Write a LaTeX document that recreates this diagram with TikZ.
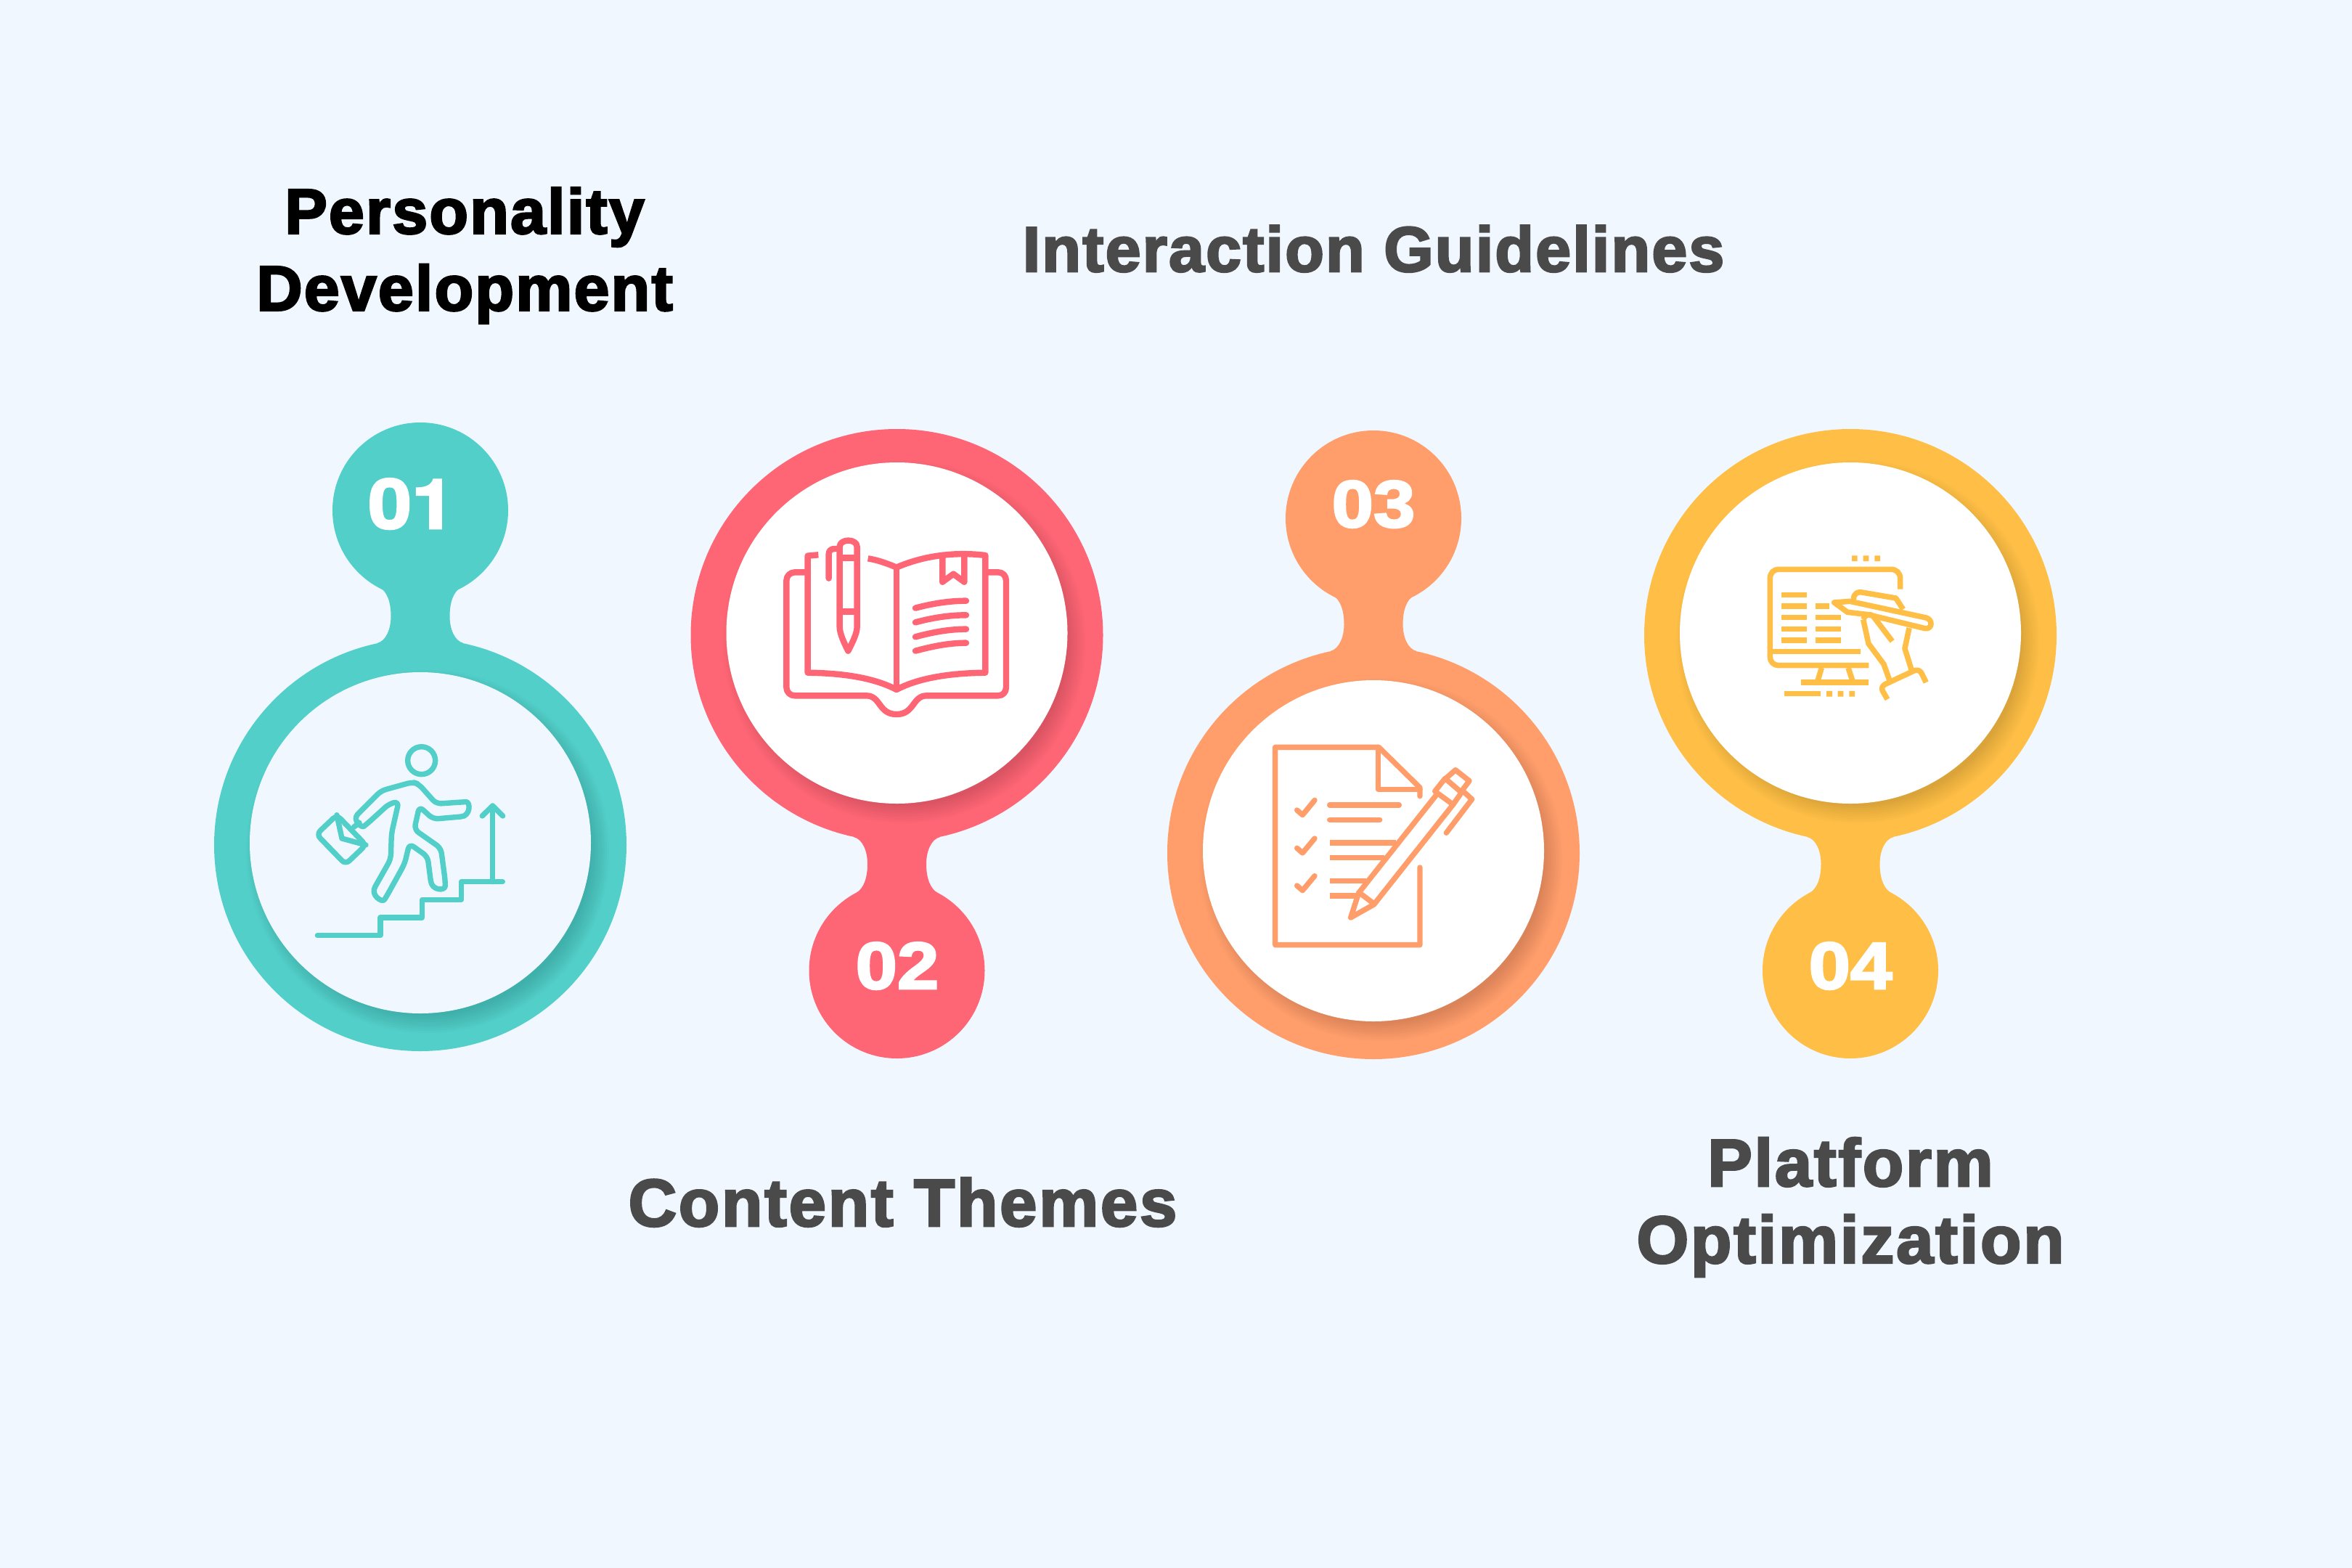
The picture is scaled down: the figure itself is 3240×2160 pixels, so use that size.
\documentclass[tikz,border=0pt]{standalone}
\usepackage{fontspec}
\newfontfamily\hda[FakeBold=3,LetterSpace=2.5]{Liberation Sans Bold}
\newfontfamily\hdb[FakeBold=3,LetterSpace=3]{Liberation Sans Bold}
\newfontfamily\hdn[FakeBold=3,FakeStretch=1.13]{Liberation Sans Bold}
\newfontfamily\hdo[BoldFeatures={FakeBold=3,FakeStretch=1.13}]{TeX Gyre Heros}
\definecolor{bgc}{HTML}{F0F7FF}
\definecolor{teal1}{HTML}{52CFC9}
\definecolor{red1}{HTML}{FF6675}
\definecolor{org1}{HTML}{FF9E6B}
\definecolor{yel1}{HTML}{FFBF47}
\definecolor{txt1}{HTML}{4A4A4A}
\tikzset{
 title/.style={font=\hda\fontsize{50}{60.3}\selectfont,align=center,text=txt1,inner sep=0pt},
 titleb/.style={font=\hdb\fontsize{52.5}{60.3}\selectfont,align=center,text=txt1,inner sep=0pt},
 num/.style={font=\hdn\fontsize{52}{60}\selectfont,text=white,inner sep=0pt,anchor=base},
 icon/.style={line width=4.2pt,line join=round,line cap=round,draw=#1},
}
% #1 color, #2 cx, #3 big cy, #4 inner cy, #5 small cy, #6 dir, #7 inner fill
\newcommand{\blobshape}[7]{%
 \fill[#1] (#2,#3) circle[radius=284];
 \fill[#1] (#2,#5) circle[radius=121];
 \begin{scope}[shift={(#2,#3)},yscale=#6]
 \fill[#1] (-56,-355) .. controls (-46,-349) and (-40.5,-335) .. (-40.5,-315)
   .. controls (-40.5,-298) and (-47,-281) .. (-59.5,-278) -- (59.5,-278)
   .. controls (47,-281) and (40.5,-298) .. (40.5,-315)
   .. controls (40.5,-335) and (46,-349) .. (56,-355) -- cycle;
 \end{scope}
 \foreach \r in {226,229,...,250}{
   \fill[black,opacity=.016] ([shift={(10,12)}]#2,#4) circle[radius=\r];}
 \fill[#7] (#2,#4) circle[radius=235];
}
\begin{document}
\begin{tikzpicture}[x=.02cm,y=-.02cm]
\fill[bgc] (0,0) rectangle (3240,2160);
\useasboundingbox (0,0) rectangle (3240,2160);
\blobshape{teal1}{579}{1164}{1161}{703}{1}{bgc}
\blobshape{red1}{1235.5}{875}{872}{1337}{-1}{white}
\blobshape{org1}{1892}{1175}{1172}{714}{1}{white}
\blobshape{yel1}{2549}{875}{872}{1337}{-1}{white}

\node[num,font=\hdo\bfseries\fontsize{54}{60}\selectfont] (n1) at (567,728) {01};
\node[num] (n2) at (1236,1362) {02};
\node[num] (n3) at (1892,726) {03};
\node[num] (n4) at (2549,1362) {04};

\node[title,text=black] (t1) at (640,352) {Personality\\Development};
\node[title,anchor=base] (t3) at (1892,374) {Interaction Guidelines};
\node[titleb,anchor=base] (t2) at (1243.5,1689) {Content Themes};
\node[titleb] (t4) at (2549,1663) {Platform\\Optimization};

% icon 1
\begin{scope}[shift={(400,1000)},x=.02cm/3,y=-.02cm/3,icon=teal1]
\draw (542,143) circle[radius=57];
\draw[rounded corners=4pt] (278,365) -- (375,268) -- (505,232) -- (530,240) -- (603,322) -- (705,315)
  [sharp corners] .. controls (745,313) and (745,373) .. (705,375) [rounded corners=4pt]
  -- (590,385) -- (533,333) -- (512,428) -- (622,505) -- (640,640)
  [sharp corners] .. controls (640,682) and (585,682) .. (580,640) [rounded corners=4pt]
  -- (567,540) -- (492,487) -- (472,570) -- (400,700)
  [sharp corners] .. controls (380,732) and (330,700) .. (350,665) [rounded corners=4pt]
  -- (415,550) -- (418,445) -- (448,312) -- (408,322) -- (320,402)
  [sharp corners] .. controls (295,422) and (255,390) .. (278,365) -- cycle;
\draw (285,400) -- (262,418);
\draw[rounded corners=4pt] (192,368) -- (312,492) -- (228,572) -- (108,448) -- cycle;
\draw (192,368) -- (213,465) -- (312,492);
\draw (112,866) -- (372,866) -- (372,792) -- (545,792) -- (545,718) -- (707,718) -- (707,644) -- (877,644);
\draw (836,644) -- (836,330);
\draw (793,372) -- (836,330) -- (878,372);
\end{scope}

% icon 2
\begin{scope}[shift={(1050,720)},x=.02cm/3,y=-.02cm/3,icon=red1,line width=4.8pt]
\draw (175,205) -- (135,205) .. controls (115,205) and (100,220) .. (100,240) -- (100,680)
  .. controls (100,700) and (115,715) .. (135,715) -- (430,715)
  .. controls (490,715) and (480,792) .. (555,792) .. controls (630,792) and (620,715) .. (680,715)
  -- (975,715) .. controls (995,715) and (1008,700) .. (1008,680) -- (1008,240)
  .. controls (1008,220) and (995,205) .. (975,205) -- (925,205);
\draw[line cap=butt] (232,133) -- (188,137) -- (188,620) .. controls (330,622) and (460,640) .. (555,690)
  .. controls (650,640) and (780,622) .. (922,620) -- (922,135) .. controls (800,120) and (670,135) .. (555,185)
  .. controls (520,170) and (480,155) .. (437,148);
\draw[line cap=butt] (555,185) -- (555,690);
\draw (745,135) -- (745,245) -- (790,212) -- (835,245) -- (835,135);
\draw (633,353) .. controls (700,335) and (770,323) .. (843,323);
\draw (633,412) .. controls (700,394) and (770,382) .. (843,382);
\draw (633,472) .. controls (700,454) and (770,440) .. (843,440);
\draw (633,530) .. controls (700,512) and (770,497) .. (843,497);
\draw (320,430) -- (320,100) .. controls (320,65) and (392,65) .. (392,100) -- (392,430)
  .. controls (392,460) and (370,500) .. (355,530) .. controls (340,500) and (320,460) .. (320,430) -- cycle;
\draw[line cap=butt] (320,145) -- (392,145) (320,367) -- (392,367);
\draw (275,230) -- (275,130) .. controls (275,115) and (285,108) .. (300,108) -- (320,108);
\end{scope}

% icon 3
\begin{scope}[shift={(1730,1010)},x=.02cm/3,y=-.02cm/3,icon=org1]
\draw (678,555) -- (678,875) -- (80,875) -- (80,58) -- (508,58) -- (678,225) -- (678,260);
\draw (505,58) -- (505,232) -- (678,232);
\draw (170,318) -- (193,338) -- (243,277);
\draw (170,475) -- (193,495) -- (243,435);
\draw (170,630) -- (193,650) -- (243,590);
\draw (305,297) -- (592,297);
\draw (305,358) -- (512,358);
\draw[line cap=butt] (305,453) -- (578,453);
\draw[line cap=butt] (305,515) -- (532,515);
\draw[line cap=butt] (305,610) -- (455,610);
\draw[line cap=butt] (305,672) -- (415,672);
\draw (750,250) -- (425,660) -- (392,762) -- (488,708) -- (815,295);
\draw (435,665) -- (482,700);
\draw (740,240) -- (782,187) -- (850,245) -- (815,295) -- cycle;
\draw (785,187) -- (825,152) -- (882,197) -- (850,240);
\draw (860,243) -- (893,273) -- (787,412);
\end{scope}

% icon 4
\begin{scope}[shift={(2420,750)},x=.02cm/3,y=-.02cm/3,icon=yel1,line cap=butt,line width=4.3pt]
\fill[yel1] (393,46) rectangle (416,69) (440,46) rectangle (463,69) (487,46) rectangle (510,69);
\fill[yel1] (288,606) rectangle (312,629) (335,606) rectangle (358,629) (382,606) rectangle (405,629);
\draw (593,185) -- (593,140) .. controls (593,118) and (577,103) .. (555,103) -- (90,103)
  .. controls (70,103) and (55,118) .. (55,140) -- (55,465) .. controls (55,485) and (70,500) .. (90,500) -- (463,500);
\draw (55,442) -- (428,442);
\draw (268,510) -- (250,570) (378,510) -- (398,570);
\draw (183,570) -- (463,570);
\draw (113,617) -- (265,617);
\foreach \yy in {208,255,302,349,396}{\draw (102,\yy) -- (207,\yy);}
\draw (242,255) -- (300,255);
\foreach \yy in {302,349,396}{\draw (242,\yy) -- (347,\yy);}
\draw (400,228) .. controls (400,200) and (420,195) .. (435,198) -- (575,222) -- (605,268);
\draw (320,240) -- (385,235) -- (700,303) .. controls (730,312) and (725,352) .. (695,347) -- (460,290) -- (375,280) -- cycle;
\draw (440,310) .. controls (445,290) and (470,285) .. (480,295) -- (560,400);
\draw (440,310) -- (462,410) -- (525,495) -- (550,565);
\draw (630,345) -- (612,430) -- (640,520);
\draw (700,570) -- (680,530) .. controls (672,518) and (660,518) .. (650,522) -- (530,578) .. controls (518,585) and (515,595) .. (520,605) -- (540,640);
\end{scope}
\end{tikzpicture}
\end{document}
